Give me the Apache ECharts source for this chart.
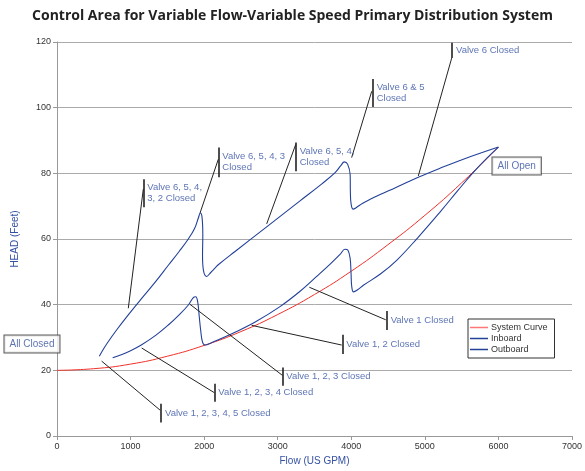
<!DOCTYPE html>
<html>
<head>
<meta charset="utf-8">
<script src="https://cdn.jsdelivr.net/npm/echarts@6/dist/echarts.min.js"></script>
<style>html,body{margin:0;padding:0;background:#fff}#c{width:585px;height:471px}</style>
</head>
<body>
<div id="c"></div>
<script>
// ---- data (Flow in US GPM, Head in feet) ----
var systemCurve = [[0,20],[500,20.5],[1000,21.9],[1500,24.3],[2000,27.6],[2500,31.8],[3000,37],[3500,43.1],[4000,50.2],[4500,58.3],[5000,67.2],[5500,77.1],[6000,88]];
var inboard = [[757,23.8],[1000,26],[1151,27.8],[1350,30.8],[1513,33.8],[1660,36.9],[1785,39.9],[1850,42.1],[1885,42.4],[1912,40.9],[1935,36],[1953,32.2],[1978,28.6],[2015,27.7],[2100,28.4],[2193,29.3],[2420,31.6],[2700,34.8],[3031,39.4],[3300,44],[3530,48.6],[3720,52.5],[3847,55.3],[3915,56.9],[3955,56.6],[3985,54],[3997,49.5],[4006,45.6],[4030,43.9],[4090,44.6],[4164,45.9],[4400,49.4],[4617,53.5],[4900,60.3],[5206,68.2],[5450,74.8],[5659,80.3],[5850,84.8],[6000,88]];
var outboard = [[575,24.3],[640,26.8],[698,28.8],[820,32.6],[969,36.9],[1151,41.9],[1340,47],[1513,52],[1660,56.2],[1785,60],[1870,63.2],[1920,66.3],[1948,67.9],[1972,66.5],[1982,61],[1978,55],[1990,50.5],[2034,48.6],[2090,49.8],[2150,51.2],[2200,52.3],[2420,56.2],[2850,63.7],[3303,71.6],[3600,76.8],[3780,80.2],[3860,82.4],[3905,83.5],[3950,82.8],[3985,79.5],[3988,74],[3998,70.6],[4025,69.1],[4070,69.6],[4150,70.8],[4250,72],[4400,73.6],[4600,75.6],[4911,78.8],[5200,81.5],[5523,84.3],[6000,88]];
var xTicks = [0,1000,2000,3000,4000,5000,6000,7000];
var yTicks = [0,20,40,60,80,100,120];

var annoTexts = ['Valve 6 Closed','Valve 6 & 5\nClosed','Valve 6, 5, 4,\nClosed','Valve 6, 5, 4, 3\nClosed','Valve 6, 5, 4,\n3, 2 Closed','Valve 1 Closed','Valve 1, 2 Closed','Valve 1, 2, 3 Closed','Valve 1, 2, 3, 4 Closed','Valve 1, 2, 3, 4, 5 Closed'];
var annoLeaders = [
  [[4911,79.2],[5365,115.1]],
  [[4005,84.8],[4278,105]],
  [[2850,64.6],[3245,88.8]],
  [[1944,67.9],[2193,84.3]],
  [[969,38.9],[1173,75.2]],
  [[3430,45.3],[4468,35.4]],
  [[2646,33.7],[3870,27.7]],
  [[1808,40.1],[3062,18.5]],
  [[1151,26.8],[2138,13.2]],
  [[607,22.8],[1400,7.9]]
];
var annoBars = [
  [[5370,115.1],[5370,119.8]],
  [[4291,100.2],[4291,108.7]],
  [[3245,80.6],[3245,89.4]],
  [[2193,78.8],[2193,87.9]],
  [[1173,69.7],[1173,78.2]],
  [[4481,38.1],[4481,32.3]],
  [[3878,30.8],[3878,25.0]],
  [[3062,20.9],[3062,15.3]],
  [[2138,15.9],[2138,10.4]],
  [[1414,9.8],[1414,4.1]]
];
var boxTexts = ['All Closed','All Open'];
var boxPoints = [[-340,28.0],[6248,82.2]];

// ---- chart ----
var BLUE_TXT = '#3451a3';
var CURVE = '#22409a';
var FONT = '"Liberation Sans Narrow", "Liberation Sans", sans-serif';
var chart = echarts.init(document.getElementById('c'), null, {renderer:'canvas'});

var segs = [];
annoLeaders.forEach(function(s){ segs.push({coords:s, lineStyle:{width:1}}); });
annoBars.forEach(function(s){ segs.push({coords:s, lineStyle:{width:1.6}}); });

var labelPts = annoBars.map(function(b, i){
  return {value:[b[0][0], (b[0][1]+b[1][1])/2], label:{formatter: annoTexts[i]}};
});
var boxPts = boxPoints.map(function(p, i){
  return {value:p, label:{formatter: boxTexts[i]}};
});

chart.setOption({
  animation:false,
  textStyle:{fontFamily:FONT},
  title:{text:'Control Area for Variable Flow-Variable Speed Primary Distribution System', left:'center', top:4,
    textStyle:{fontFamily:'"Open Sans", sans-serif', fontWeight:'bold', fontSize:14, color:'#222'}},
  grid:{left:57, right:13, top:42, bottom:33, containLabel:false},
  legend:{
    orient:'vertical', left:468, top:319, width:79,
    data:['System Curve','Inboard','Outboard'],
    icon:'rect', itemWidth:18, itemHeight:1.5, itemGap:2,
    padding:[4,7,4,2], borderColor:'#333', borderWidth:1, backgroundColor:'#fff',
    textStyle:{fontSize:9, color:'#333', fontFamily:FONT, padding:[0,0,0,-2]}
  },
  xAxis:{type:'value', min:xTicks[0], max:xTicks[xTicks.length-1], interval:1000,
    name:'Flow (US GPM)', nameLocation:'middle', nameGap:20,
    nameTextStyle:{color:BLUE_TXT, fontSize:10, fontFamily:FONT},
    axisLine:{lineStyle:{color:'#999'}}, axisTick:{show:true, length:4, lineStyle:{color:'#999'}},
    axisLabel:{fontSize:9, color:'#333', margin:6, fontFamily:FONT, formatter:function(v){return String(v);}},
    splitLine:{show:false}},
  yAxis:{type:'value', min:yTicks[0], max:yTicks[yTicks.length-1], interval:20,
    name:'HEAD (Feet)', nameLocation:'middle', nameGap:37,
    nameTextStyle:{color:BLUE_TXT, fontSize:10, fontFamily:FONT},
    axisLine:{show:true, lineStyle:{color:'#999'}}, axisTick:{show:true, length:4, lineStyle:{color:'#999'}},
    axisLabel:{fontSize:9, color:'#333', margin:6, fontFamily:FONT},
    splitLine:{show:true, lineStyle:{color:'#aaa', width:1}}},
  series:[
    {name:'System Curve', type:'line', data:systemCurve, smooth:true, showSymbol:false, symbol:'none',
      lineStyle:{color:'#f0302a', width:1}, itemStyle:{color:'#f77'}, z:3},
    {name:'Inboard', type:'line', data:inboard, smooth:0.4, showSymbol:false, symbol:'none',
      lineStyle:{color:CURVE, width:1.1}, itemStyle:{color:CURVE}, z:4},
    {name:'Outboard', type:'line', data:outboard, smooth:0.4, showSymbol:false, symbol:'none',
      lineStyle:{color:CURVE, width:1.1}, itemStyle:{color:CURVE}, z:4},
    {type:'lines', coordinateSystem:'cartesian2d', data:segs, silent:true, z:5,
      lineStyle:{color:'#222', width:1, opacity:1}},
    {type:'scatter', data:labelPts, symbolSize:0, silent:true, clip:false, z:6,
      label:{show:true, position:'right', distance:4, color:BLUE_TXT, fontSize:9.5, lineHeight:11, fontFamily:FONT, align:'left', verticalAlign:'middle'}},
    {type:'scatter', data:boxPts, symbolSize:0, silent:true, clip:false, z:6,
      label:{show:true, position:'inside', color:BLUE_TXT, fontSize:10, fontFamily:FONT,
        backgroundColor:'#fff', borderColor:'#333', borderWidth:1, padding:[4,5,3,5]}}
  ]
});
</script>
</body>
</html>
